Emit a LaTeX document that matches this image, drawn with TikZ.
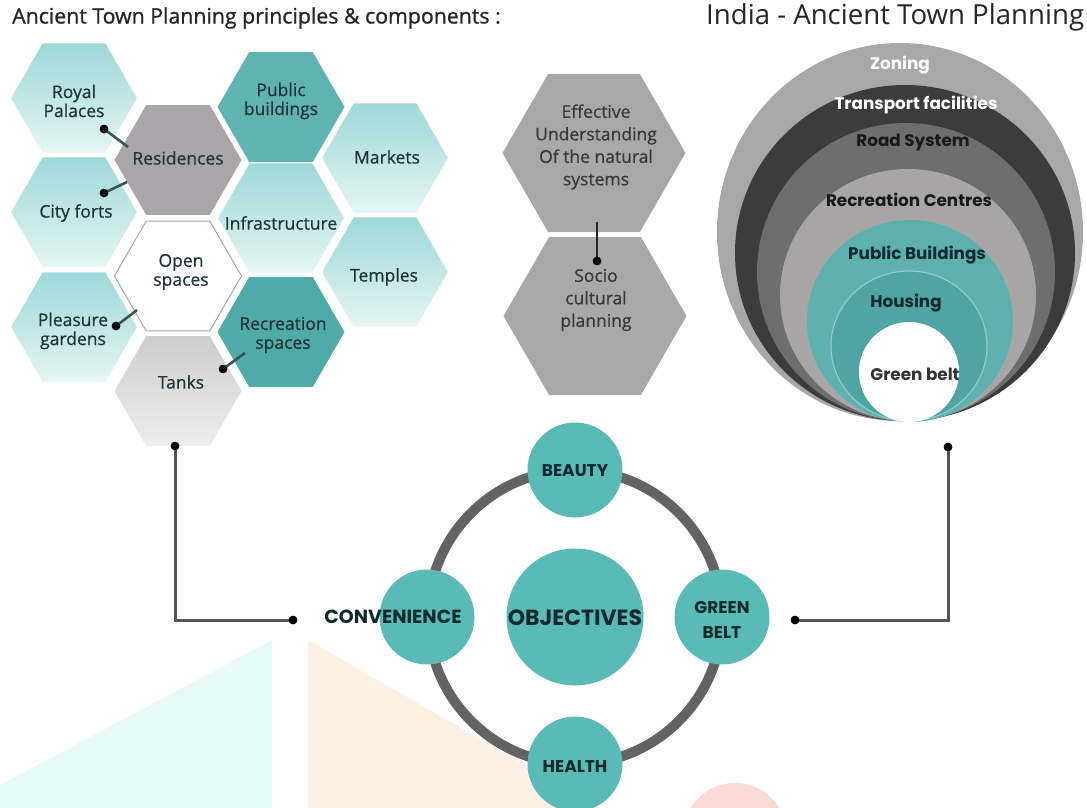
\documentclass[tikz,border=0pt]{standalone}
\usepackage{fontspec}
\setmainfont{Open Sans}
\newfontfamily\geofont{Poppins}
\usetikzlibrary{shapes.geometric}

% cell colours
\definecolor{cyanTop}{RGB}{158,216,216}
\definecolor{cyanBot}{RGB}{230,245,245}
\definecolor{tealCell}{RGB}{95,180,178}
\definecolor{tealCellB}{RGB}{80,170,168}
\definecolor{residGray}{RGB}{170,165,168}
\definecolor{tankTop}{RGB}{205,205,205}
\definecolor{tankBot}{RGB}{238,238,238}
\definecolor{midGray}{RGB}{168,168,168}
\definecolor{cellInk}{RGB}{32,52,56}
\definecolor{stubInk}{RGB}{55,85,85}
\definecolor{leadInk}{RGB}{85,85,85}
% objectives wheel
\definecolor{wheelGray}{RGB}{100,98,100}
\definecolor{wheelTeal}{RGB}{90,186,182}
\definecolor{wheelInk}{RGB}{14,42,46}
% concentric zones
\definecolor{zoneA}{RGB}{168,168,168}
\definecolor{zoneB}{RGB}{60,60,60}
\definecolor{zoneC}{RGB}{110,110,110}
\definecolor{zoneD}{RGB}{168,165,167}
\definecolor{zoneE}{RGB}{93,176,174}
\definecolor{zoneF}{RGB}{80,164,163}
\definecolor{zoneFedge}{RGB}{140,203,201}
% faint backdrop marks
\definecolor{markCyan}{RGB}{232,249,250}
\definecolor{markPeach}{RGB}{254,241,228}
\definecolor{markRed}{RGB}{250,218,213}

\begin{document}
\begin{tikzpicture}[x=1pt,y=-1pt,
  hexcell/.style={regular polygon, regular polygon sides=6, minimum size=127pt, inner sep=0pt, outer sep=0pt},
  lightcell/.style={hexcell, top color=cyanTop, bottom color=cyanBot, draw=white, line width=0.8pt},
  tealcell/.style={hexcell, fill=tealCell},
  tealcellB/.style={hexcell, fill=tealCellB},
  graycell/.style={hexcell, fill=residGray},
  opencell/.style={hexcell, fill=white, draw=gray!70, line width=1pt},
  tankcell/.style={hexcell, top color=tankTop, bottom color=tankBot},
  bigcell/.style={regular polygon, regular polygon sides=6, minimum size=183pt, inner sep=0pt, fill=midGray},
  celltext/.style={font=\fontsize{17.5}{19}\selectfont\addfontfeature{FakeBold=0.6}, text=cellInk, align=center, inner sep=0pt},
  bigtext/.style={font=\fontsize{17.5}{22.5}\selectfont\addfontfeature{FakeBold=0.6}, text=black!78, align=center, inner sep=0pt},
  pin/.style={circle, fill=black, inner sep=0pt, minimum size=8.5pt},
  stub/.style={draw=stubInk, line width=2.6pt},
  leader/.style={draw=leadInk, line width=3pt},
  wheelnode/.style={circle, fill=wheelTeal, minimum size=95pt, inner sep=0pt},
  wheeltext/.style={font=\geofont\bfseries\fontsize{17}{25}\selectfont, text=wheelInk, align=center, inner sep=0pt},
  zonetext/.style={font=\geofont\bfseries\fontsize{16.8}{18}\selectfont, inner sep=0pt},
  titletext/.style={inner sep=0pt, text=black!85, anchor=west}
]
\useasboundingbox[fill=white] (0,0) rectangle (1087,808);

% faint backdrop marks along the bottom edge
\fill[markCyan] (0,785) -- (272,640) -- (272,808) -- (0,808) -- cycle;
\fill[markPeach] (308,640) -- (600,808) -- (308,808) -- cycle;
\fill[markRed] (735,835) circle[radius=52];

% titles
\node[titletext, font=\fontsize{21.3}{24}\selectfont\addfontfeature{FakeBold=1}] (ltitle) at (12,18) {Ancient Town Planning principles \& components :};
\node[titletext, font=\fontsize{27.6}{30}\selectfont] (rtitle) at (706,17) {India - Ancient Town Planning};

% component cells
\node[lightcell] (royal) at (74,98) {};
\node[lightcell] (forts) at (74,212) {};
\node[lightcell] (garden) at (74,327) {};
\node[graycell] (resid) at (178,160) {};
\node[opencell] (open) at (178,276) {};
\node[tankcell] (tanks) at (178,391) {};
\node[tealcell] (public) at (281,107) {};
\node[lightcell] (infra) at (281,218) {};
\node[tealcellB] (recsp) at (281,332) {};
\node[lightcell] (market) at (385,158) {};
\node[lightcell] (temple) at (385,272) {};

\node[celltext] (troyal) at (74,101) {Royal\\Palaces};
\node[celltext] (tforts) at (76,213) {City forts};
\node[celltext] (tgarden) at (73,331) {Pleasure\\gardens};
\node[celltext] (tresid) at (178,158) {Residences};
\node[celltext] (topen) at (181,272) {Open\\spaces};
\node[celltext] (ttanks) at (181,382) {Tanks};
\node[celltext] (tpublic) at (281,101) {Public\\buildings};
\node[celltext] (tinfra) at (281,223) {Infrastructure};
\node[celltext] (trecsp) at (283,335) {Recreation\\spaces};
\node[celltext] (tmarket) at (387,157) {Markets};
\node[celltext] (ttemple) at (384,277) {Temples};

% short links between cells
\coordinate (e1) at (128,147);
\coordinate (e2) at (127,182);
\coordinate (e3) at (137,310);
\coordinate (e4) at (245,353);
\node[pin] (p1) at (104,129) {};
\node[pin] (p2) at (104,193) {};
\node[pin] (p3) at (116,326) {};
\node[pin] (p4) at (223,369) {};
\draw[stub] (p1.center) -- (e1);
\draw[stub] (p2.center) -- (e2);
\draw[stub] (p3.center) -- (e3);
\draw[stub] (p4.center) -- (e4);
\node[pin] at (p1) {};
\node[pin] at (p2) {};
\node[pin] at (p3) {};
\node[pin] at (p4) {};

% planning basis cells
\node[bigcell] (natural) at (594,153) {};
\node[bigcell] (socio) at (595,316) {};
\node[bigtext] (tnatural) at (596,147) {Effective\\Understanding\\Of the natural\\systems};
\node[bigtext] (tsocio) at (596,300) {Socio\\cultural\\planning};
\coordinate (e5) at (597,222);
\node[pin] (p5) at (597,261) {};
\draw[draw=black!85, line width=2.4pt] (e5) -- (p5.center);
\node[pin] at (p5) {};

% concentric planning zones
\fill[zoneA] (900,232) ellipse[x radius=183, y radius=189];
\fill[zoneB] (905,253) ellipse[x radius=170, y radius=168];
\fill[zoneC] (906,272) ellipse[x radius=149, y radius=149];
\fill[zoneD] (908,295) ellipse[x radius=128, y radius=126];
\fill[zoneE] (910,321) ellipse[x radius=103, y radius=101];
\filldraw[fill=zoneF, draw=zoneFedge, line width=1.2pt] (909,346) ellipse[x radius=78, y radius=75];
\fill[white] (909,372) circle[radius=50];

\node[zonetext, text=white] (tzone) at (900,65) {Zoning};
\node[zonetext, text=white] (ttrans) at (916,105) {Transport facilities};
\node[zonetext, text=black!90] (troad) at (913,143) {Road System};
\node[zonetext, text=black!90] (trec) at (909,200) {Recreation Centres};
\node[zonetext, text=wheelInk] (tpub) at (917,255) {Public Buildings};
\node[zonetext, text=wheelInk] (thou) at (906,303) {Housing};
\node[zonetext, text=black!80] (tgreen) at (915,374) {Green belt};

% objectives wheel
\coordinate (hub) at (575,617);
\draw[draw=wheelGray, line width=10pt] (hub) circle[radius=147];
\node[wheelnode] (beauty) at (575,470) {};
\node[wheelnode] (conv) at (427,617) {};
\node[wheelnode] (gbelt) at (722,617) {};
\node[wheelnode] (health) at (575,764) {};
\node[wheelnode, minimum size=137pt] (obj) at (hub) {};
\node[wheeltext] (tbeauty) at (575,471) {BEAUTY};
\node[wheeltext, font=\geofont\bfseries\fontsize{19}{24}\selectfont] (tconv) at (393,617) {CONVENIENCE};
\node[wheeltext] (tgbelt) at (722,620) {GREEN\\BELT};
\node[wheeltext] (thealth) at (575,767) {HEALTH};
\node[wheeltext, font=\geofont\bfseries\fontsize{22}{26}\selectfont] (tobj) at (575,618) {OBJECTIVES};

% leaders from the two groups to the wheel
\node[pin] (lp1) at (175,446) {};
\node[pin] (lp2) at (293,620) {};
\node[pin] (rp1) at (948,447) {};
\node[pin] (rp2) at (795,620) {};
\draw[leader] (lp1.center) |- (lp2.center);
\draw[leader] (rp1.center) |- (rp2.center);
\node[pin] at (lp1) {};
\node[pin] at (lp2) {};
\node[pin] at (rp1) {};
\node[pin] at (rp2) {};
\end{tikzpicture}
\end{document}
